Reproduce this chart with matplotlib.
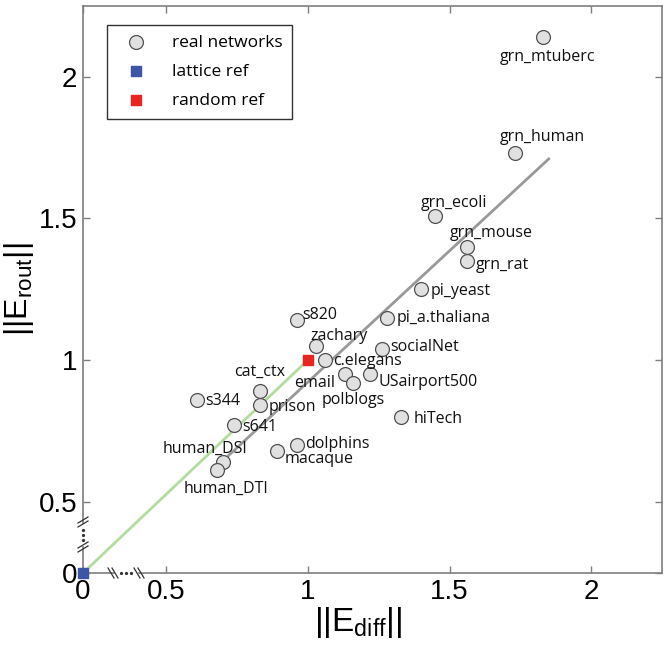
import numpy as np
import matplotlib
matplotlib.use('Agg')
import matplotlib.pyplot as plt

# network measures
names = ['grn_mtuberc', 'grn_human', 'grn_ecoli', 'grn_mouse', 'grn_rat', 'pi_yeast',
         'pi_a.thaliana', 's820', 'zachary', 'socialNet', 'c.elegans', 'email',
         'polblogs', 'USairport500', 'cat_ctx', 's344', 'prison', 'hiTech', 's641',
         'dolphins', 'macaque', 'human_DSI', 'human_DTI']
e_diff = [1.83, 1.73, 1.45, 1.56, 1.56, 1.40,
          1.28, 0.96, 1.03, 1.26, 1.06, 1.13,
          1.16, 1.22, 0.83, 0.61, 0.83, 1.33, 0.74,
          0.96, 0.89, 0.70, 0.68]
e_rout = [2.14, 1.73, 1.51, 1.40, 1.35, 1.25,
          1.15, 1.14, 1.05, 1.04, 1.00, 0.95,
          0.92, 0.95, 0.89, 0.86, 0.84, 0.80, 0.77,
          0.70, 0.68, 0.64, 0.61]
lattice = (0.0, 0.0)
random_ref = (1.0, 1.0)
fit_x = [0.69, 1.85]
fit_y = [0.635, 1.71]

# label offsets in pixels (dx, dy, ha)
offsets = {
    'grn_mtuberc': (4, -20, 'center'), 'grn_human': (28, 16, 'center'),
    'grn_ecoli': (19, 13, 'center'), 'grn_mouse': (25, 14, 'center'),
    'grn_rat': (9, -4, 'left'), 'pi_yeast': (9, -2, 'left'),
    'pi_a.thaliana': (9, 0, 'left'), 's820': (6, 5, 'left'),
    'zachary': (23, 10, 'center'), 'socialNet': (9, 2, 'left'),
    'c.elegans': (8, -1, 'left'), 'email': (-10, -9, 'right'),
    'polblogs': (0, -17, 'center'), 'USairport500': (8, -8, 'left'),
    'cat_ctx': (0, 19, 'center'), 's344': (8, -1, 'left'),
    'prison': (9, -2, 'left'), 'hiTech': (12, -2, 'left'),
    's641': (8, -2, 'left'), 'dolphins': (9, 1, 'left'),
    'macaque': (8, -8, 'left'), 'human_DSI': (-18, 13, 'center'),
    'human_DTI': (9, -18, 'center'),
}

plt.rcParams['mathtext.fontset'] = 'custom'
plt.rcParams['mathtext.rm'] = 'Liberation Sans'
plt.rcParams['mathtext.it'] = 'Liberation Sans'

spine_col = '#7f7f7f'

# broken axes: [0, 0.5] squeezed into a shorter stretch
def make_scale(c0):
    def fwd(v):
        v = np.asarray(v, dtype=float)
        return np.where(v < 0.5, c0 + v * (0.5 - c0) / 0.5, v)
    def inv(u):
        u = np.asarray(u, dtype=float)
        return np.where(u < 0.5, (u - c0) * 0.5 / (0.5 - c0), u)
    return fwd, inv

fig = plt.figure(figsize=(6.69, 6.50), dpi=100)
ax = fig.add_axes([83 / 669, 77 / 650, 579 / 669, 567 / 650])
ax.set_xscale('function', functions=make_scale(0.206))
ax.set_yscale('function', functions=make_scale(0.248))
ax.set_xlim(0, 2.25)
ax.set_ylim(0, 2.25)

ax.plot([lattice[0], random_ref[0]], [lattice[1], random_ref[1]], color='#b3dc9f', lw=2, zorder=1)
ax.plot(fit_x, fit_y, color='#999999', lw=2, zorder=1)

ax.scatter(e_diff, e_rout, s=100, facecolor='#e0e0e0', edgecolor='#505050', lw=0.9, zorder=3,
           label='real networks')
ax.scatter([lattice[0]], [lattice[1]], marker='s', s=45, color='#3d55a5', zorder=4, clip_on=False,
           label='lattice ref')
ax.scatter([random_ref[0]], [random_ref[1]], marker='s', s=45, color='#e8251f', zorder=4,
           label='random ref')

for n, x, y in zip(names, e_diff, e_rout):
    dx, dy, ha = offsets[n]
    ax.annotate(n, (x, y), xytext=(dx, dy), textcoords='offset pixels', ha=ha, va='center',
                fontsize=11.5, family='Open Sans', color='#111111')

ticks = [0, 0.5, 1, 1.5, 2]
ax.set_xticks(ticks)
ax.set_yticks(ticks)
ax.set_xticklabels(['0', '0.5', '1', '1.5', '2'])
ax.set_yticklabels(['0', '0.5', '1', '1.5', '2'])
ax.minorticks_off()
ax.tick_params(direction='in', length=5, width=1, color=spine_col, top=True, right=True,
               labelsize=20, pad=4)
for lab in ax.get_xticklabels() + ax.get_yticklabels():
    lab.set_family('Liberation Sans')
for s in ax.spines.values():
    s.set_color(spine_col)
    s.set_linewidth(1.2)

ax.set_xlabel(r'||E$_{\mathrm{diff}}$||', fontsize=24, family='Liberation Sans')
ax.set_ylabel(r'||E$_{\mathrm{rout}}$||', fontsize=23, family='Liberation Sans')
ax.xaxis.set_label_coords((358 - 83) / 579, -(622 - 573) / 567)
ax.xaxis.label.set_va('center')
ax.yaxis.set_label_coords(-(83 - 19) / 579, 0.5)
ax.yaxis.label.set_va('center')

# axis break marks
W, H = 579.0, 567.0
def brk_x(px):
    f = px / W
    for o in (-2, 2):
        ax.plot([f + (o - 3) / W, f + (o + 3) / W], [5 / H, -5 / H], color='#333333', lw=0.9,
                transform=ax.transAxes, clip_on=False, zorder=6)
def brk_y(py):
    f = py / H
    for o in (-2, 2):
        ax.plot([-5 / W, 5 / W], [f + (o - 3) / H, f + (o + 3) / H], color='#333333', lw=0.9,
                transform=ax.transAxes, clip_on=False, zorder=6)

ax.plot([33 / W, 53 / W], [0, 0], color='white', lw=2.5, transform=ax.transAxes, clip_on=False, zorder=5)
ax.plot([0, 0], [29 / H, 48 / H], color='white', lw=2.5, transform=ax.transAxes, clip_on=False, zorder=5)
ax.plot(np.array([38, 43, 48]) / W, [0, 0, 0], ls='none', marker='o', ms=1.3, color='#333333',
        transform=ax.transAxes, clip_on=False, zorder=6)
ax.plot([0, 0, 0], np.array([33, 38, 43]) / H, ls='none', marker='o', ms=1.3, color='#333333',
        transform=ax.transAxes, clip_on=False, zorder=6)
brk_x(30)
brk_x(56)
brk_y(26)
brk_y(51)

leg = ax.legend(loc='upper left', bbox_to_anchor=(24 / W, (H - 19) / H), frameon=True, fancybox=False,
                prop={'family': 'Open Sans', 'size': 12.5}, borderpad=0.55, labelspacing=0.75,
                handletextpad=1.0, borderaxespad=0, scatterpoints=1, handlelength=2.2)
leg.get_frame().set_edgecolor('black')
leg.get_frame().set_linewidth(1.0)

fig.savefig('out.png', dpi=100)
